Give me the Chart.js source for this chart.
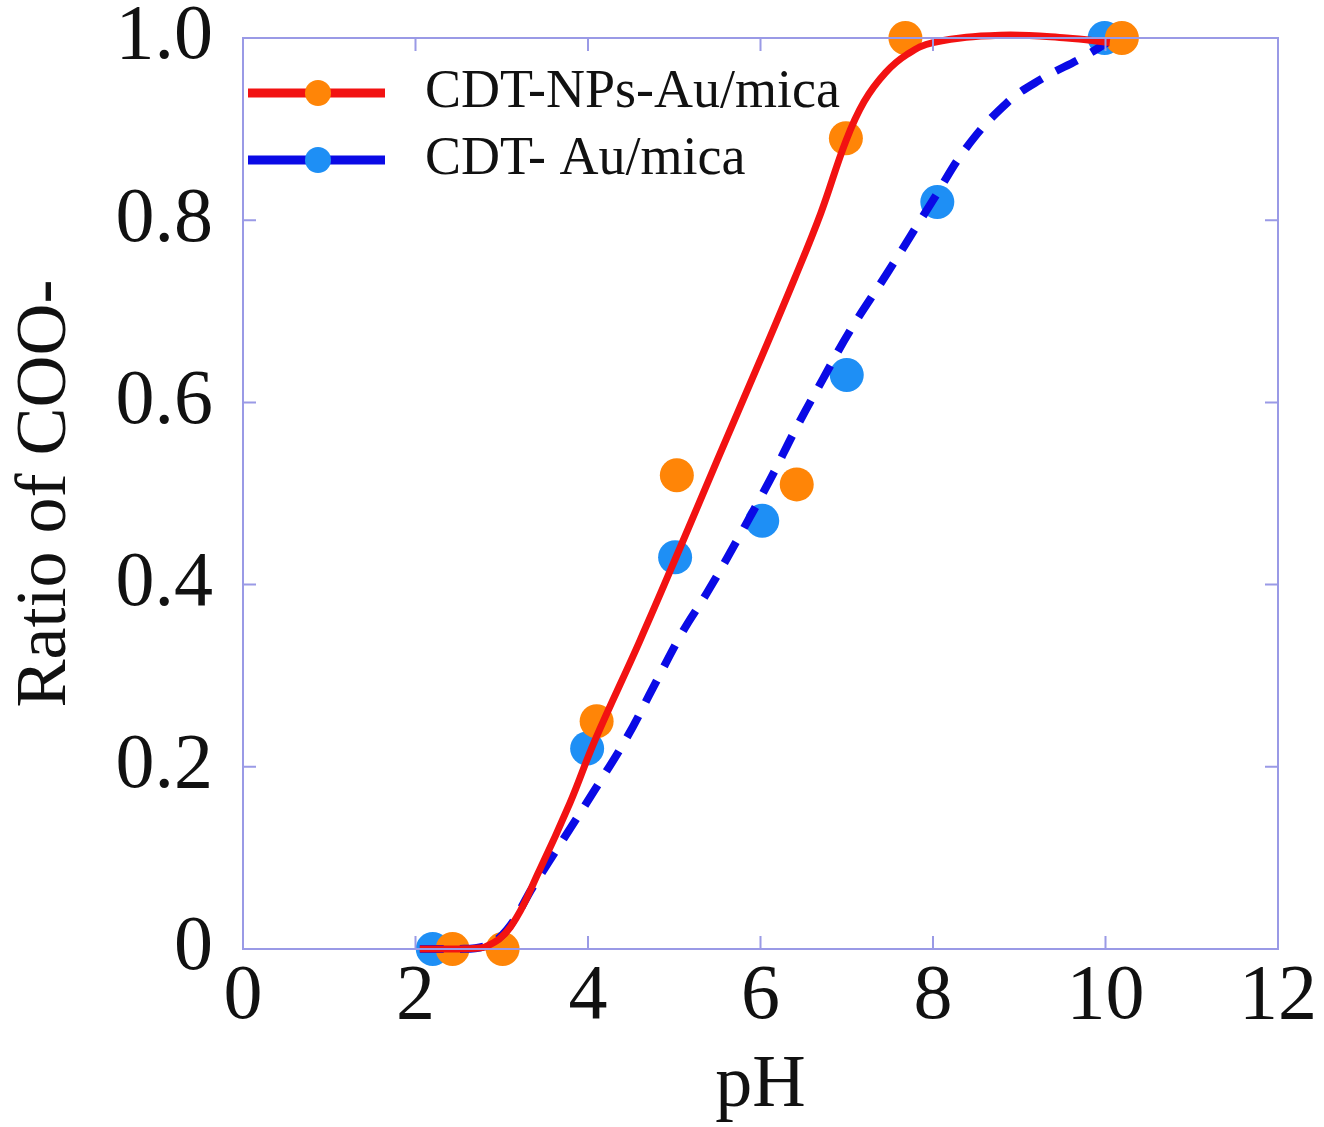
<!DOCTYPE html>
<html>
<head>
<meta charset="utf-8">
<script src="https://cdn.jsdelivr.net/npm/chart.js@4.4.0/dist/chart.umd.min.js"></script>
<style>
    html, body { margin: 0; padding: 0; background: #ffffff; }
    .chart-container { position: relative; width: 1324px; height: 1127px; }
</style>
</head>
<body>
<div class="chart-container"><canvas id="myChart"></canvas></div>
<script>
const phNP = [2.43, 3.01, 4.10, 5.03, 6.42, 6.99, 7.68, 10.19];
const ratioNP = [0, 0, 0.25, 0.52, 0.51, 0.89, 1.0, 1.0];
const phAu = [2.20, 3.99, 5.01, 6.02, 7.00, 8.05, 9.99];
const ratioAu = [0, 0.22, 0.43, 0.47, 0.63, 0.82, 1.0];

// Fitted curves
const fitPhNP = [2.05, 2.5, 2.8, 3.10, 3.44, 3.79, 4.08, 4.6, 5.07, 5.5, 5.99, 6.4, 6.7, 6.99, 7.2, 7.45, 7.7, 8.0, 8.78, 9.55, 10.05];
const fitNP = [0, 0, 0.002, 0.024, 0.087, 0.16, 0.229, 0.338, 0.441, 0.537, 0.645, 0.737, 0.808, 0.887, 0.93, 0.962, 0.982, 0.995, 1.003, 1.0, 0.995];
const fitPhAu = [2.05, 2.5, 2.8, 3.06, 3.36, 3.71, 4.08, 4.45, 4.75, 5.09, 5.38, 5.73, 6.11, 6.42, 6.72, 7.04, 7.47, 8.0, 8.39, 8.86, 9.24, 9.74, 10.02];
const fitAu = [0, 0, 0.003, 0.021, 0.068, 0.12, 0.175, 0.232, 0.286, 0.347, 0.391, 0.449, 0.515, 0.573, 0.625, 0.679, 0.742, 0.822, 0.88, 0.929, 0.954, 0.979, 0.995];

const xTicks = [0, 2, 4, 6, 8, 10, 12];
const yTicks = [0, 0.2, 0.4, 0.6, 0.8, 1.0];
const legendLabels = ['CDT-NPs-Au/mica', 'CDT- Au/mica'];

const FONT = "'Liberation Serif', 'Times New Roman', serif";
const AXIS_COLOR = '#9a9ae6';
const RED = '#f21212';
const BLUE_LINE = '#0a0ae6';
const ORANGE = '#ff8507';
const BLUE_DOT = '#1e8ff5';

function toXY(xs, ys) {
    return xs.map((x, i) => ({ x: x, y: ys[i] }));
}

// frame, inward ticks and legend
const framePlugin = {
    id: 'frame',
    afterDraw(chart) {
        const ctx = chart.ctx;
        const a = chart.chartArea;
        const sx = chart.scales.x;
        const sy = chart.scales.y;
        ctx.save();
        ctx.strokeStyle = AXIS_COLOR;
        ctx.lineWidth = 2;
        ctx.strokeRect(a.left, a.top, a.right - a.left, a.bottom - a.top);
        const len = 13;
        ctx.beginPath();
        xTicks.forEach(v => {
            const px = sx.getPixelForValue(v);
            ctx.moveTo(px, a.bottom); ctx.lineTo(px, a.bottom - len);
            ctx.moveTo(px, a.top); ctx.lineTo(px, a.top + len);
        });
        yTicks.forEach(v => {
            const py = sy.getPixelForValue(v);
            ctx.moveTo(a.left, py); ctx.lineTo(a.left + len, py);
            ctx.moveTo(a.right, py); ctx.lineTo(a.right - len, py);
        });
        ctx.stroke();

        // legend
        const items = [
            { label: legendLabels[0], line: RED, dot: ORANGE, y: a.top + 55 },
            { label: legendLabels[1], line: BLUE_LINE, dot: BLUE_DOT, y: a.top + 122 }
        ];
        items.forEach(it => {
            ctx.strokeStyle = it.line;
            ctx.lineWidth = 9;
            ctx.beginPath();
            ctx.moveTo(a.left + 5, it.y);
            ctx.lineTo(a.left + 142, it.y);
            ctx.stroke();
            ctx.fillStyle = it.dot;
            ctx.beginPath();
            ctx.arc(a.left + 75, it.y, 13, 0, Math.PI * 2);
            ctx.fill();
            ctx.fillStyle = '#111111';
            ctx.font = '54px ' + FONT;
            ctx.textBaseline = 'middle';
            ctx.textAlign = 'left';
            ctx.fillText(it.label, a.left + 182, it.y);
        });
        ctx.restore();
    }
};

function createChart() {
    const ctx = document.getElementById('myChart').getContext('2d');
    return new Chart(ctx, {
        type: 'scatter',
        data: {
            datasets: [
                {
                    label: legendLabels[0] + ' fit',
                    data: toXY(fitPhNP, fitNP),
                    showLine: true,
                    borderColor: RED,
                    borderWidth: 7,
                    pointRadius: 0,
                    tension: 0.4,
                    order: 0
                },
                {
                    label: legendLabels[1] + ' fit',
                    data: toXY(fitPhAu, fitAu),
                    showLine: true,
                    borderColor: BLUE_LINE,
                    borderWidth: 8,
                    borderDash: [24, 16],
                    pointRadius: 0,
                    tension: 0.4,
                    order: 1
                },
                {
                    label: legendLabels[0],
                    data: toXY(phNP, ratioNP),
                    backgroundColor: ORANGE,
                    borderWidth: 0,
                    pointRadius: 17,
                    order: 2
                },
                {
                    label: legendLabels[1],
                    data: toXY(phAu, ratioAu),
                    backgroundColor: BLUE_DOT,
                    borderWidth: 0,
                    pointRadius: 17,
                    order: 3
                }
            ]
        },
        options: {
            responsive: true,
            maintainAspectRatio: false,
            animation: false,
            clip: false,
            layout: { padding: { top: 38, right: 46, bottom: 0, left: 0 } },
            plugins: {
                legend: { display: false },
                tooltip: { enabled: false }
            },
            scales: {
                x: {
                    type: 'linear',
                    min: 0,
                    max: 12,
                    afterBuildTicks: s => { s.ticks = xTicks.map(v => ({ value: v })); },
                    afterFit: s => { s.height = 178; s.paddingLeft = 0; s.paddingRight = 0; },
                    grid: { display: false },
                    border: { display: false },
                    ticks: {
                        color: '#111111',
                        font: { family: FONT, size: 78, lineHeight: 1 },
                        padding: 2,
                        maxRotation: 0
                    },
                    title: {
                        display: true,
                        text: 'pH',
                        color: '#111111',
                        font: { family: FONT, size: 74, lineHeight: 1.1 },
                        padding: { top: 0, bottom: 0 }
                    }
                },
                y: {
                    type: 'linear',
                    min: 0,
                    max: 1,
                    afterBuildTicks: s => { s.ticks = yTicks.map(v => ({ value: v })); },
                    afterFit: s => { s.width = 243; s.paddingTop = 0; s.paddingBottom = 0; },
                    grid: { display: false },
                    border: { display: false },
                    ticks: {
                        color: '#111111',
                        font: { family: FONT, size: 78, lineHeight: 0.9 },
                        padding: 22,
                        callback: v => v === 0 ? '0' : v.toFixed(1)
                    },
                    title: {
                        display: true,
                        text: 'Ratio of COO-',
                        color: '#111111',
                        font: { family: FONT, size: 72, lineHeight: 1 },
                        padding: { top: 10, bottom: 0 }
                    }
                }
            }
        },
        plugins: [framePlugin]
    });
}

document.addEventListener('DOMContentLoaded', createChart);
</script>
</body>
</html>
